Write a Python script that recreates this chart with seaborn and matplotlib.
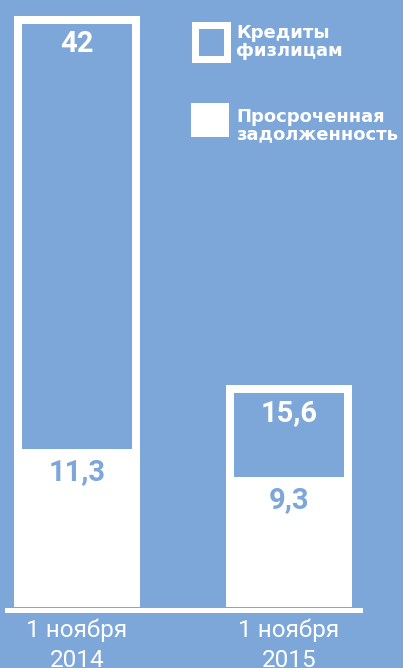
import pandas as pd
import seaborn as sns
import matplotlib.pyplot as plt
from matplotlib.patches import Rectangle

# data
dates = ['1 ноября\n2014', '1 ноября\n2015']
credits = [42, 15.6]
overdue = [11.3, 9.3]
credit_labels = ['42', '15,6']
overdue_labels = ['11,3', '9,3']
legend_labels = ['Кредиты\nфизлицам', 'Просроченная\nзадолженность']

bg = '#7DA6D9'
W, H = 403, 668

df = pd.DataFrame({'date': dates, 'credits': credits, 'overdue': overdue})

fig = plt.figure(figsize=(W / 100, H / 100), dpi=100, facecolor=bg)
ax = fig.add_axes([0, 61 / H, 1, 607 / H])
ax.set_facecolor(bg)

# outlined bars: total credits
sns.barplot(data=df, x='date', y='credits', color=bg, saturation=1, width=0.557,
            edgecolor='white', linewidth=5.76, errorbar=None, ax=ax)
# white bars: overdue debt
sns.barplot(data=df, x='date', y='overdue', color='white', saturation=1, width=0.594,
            linewidth=0, errorbar=None, ax=ax)

ax.set_xlim(-0.363, 1.538)
ax.set_ylim(0, 43.43)
for s in ax.spines.values():
    s.set_visible(False)
ax.set_yticks([])
ax.set_xlabel('')
ax.set_ylabel('')
ax.set_xticks(range(len(dates)))
ax.set_xticklabels(dates, fontfamily='Roboto', fontsize=17.5, color='white', linespacing=1.35)
ax.tick_params(axis='x', length=0, pad=8.5)

# baseline
ax.axhline(-0.18, xmin=7 / W, xmax=360 / W, color='white', lw=3.6, clip_on=False)

# value labels
for i in range(len(dates)):
    ax.text(i, credits[i] - 1.75, credit_labels[i], ha='center', va='center',
            color='white', fontsize=21, fontweight='bold', fontfamily='Roboto')
    ax.text(i, overdue[i] - 1.65, overdue_labels[i], ha='center', va='center',
            color=bg, fontsize=21, fontweight='bold', fontfamily='Roboto')

# legend
fig.add_artist(Rectangle((194.5 / W, (H - 58.5) / H), 32 / W, 33 / H, transform=fig.transFigure,
                         facecolor=bg, edgecolor='white', lw=5.04))
fig.add_artist(Rectangle((191 / W, (H - 137) / H), 38 / W, 34 / H, transform=fig.transFigure,
                         facecolor='white', lw=0))
fig.text(236 / W, (H - 24.5) / H, legend_labels[0], va='top', ha='left', color='white',
         fontsize=13, fontweight='bold', fontfamily='DejaVu Sans', linespacing=0.95)
fig.text(236 / W, (H - 108) / H, legend_labels[1], va='top', ha='left', color='white',
         fontsize=13, fontweight='bold', fontfamily='DejaVu Sans', linespacing=0.95)

fig.savefig('out.png', dpi=100, facecolor=bg)
